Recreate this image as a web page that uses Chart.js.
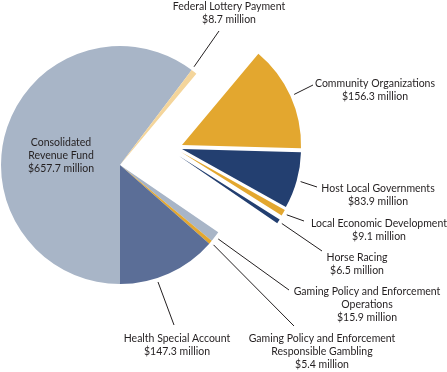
<!DOCTYPE html>
<html>
<head>
<meta charset="utf-8">
<script src="https://cdn.jsdelivr.net/npm/chart.js@4.4.1/dist/chart.umd.min.js"></script>
<style>
html,body{margin:0;padding:0;background:#fff;}
#wrap{position:relative;width:447px;height:372px;}
</style>
</head>
<body>
<div id="wrap"><canvas id="c" width="447" height="372"></canvas></div>
<script>
// ---- data ----
const categories = [
  "Consolidated Revenue Fund",
  "Federal Lottery Payment",
  "Community Organizations",
  "Host Local Governments",
  "Local Economic Development",
  "Horse Racing",
  "Gaming Policy and Enforcement Operations",
  "Gaming Policy and Enforcement Responsible Gambling",
  "Health Special Account"
];
const values = [657.7, 8.7, 156.3, 83.9, 9.1, 6.5, 15.9, 5.4, 147.3];
const valueLabels = ["$657.7 million","$8.7 million","$156.3 million","$83.9 million","$9.1 million","$6.5 million","$15.9 million","$5.4 million","$147.3 million"];
const nameLines = [
  ["Consolidated","Revenue Fund"],
  ["Federal Lottery Payment"],
  ["Community Organizations"],
  ["Host Local Governments"],
  ["Local Economic Development"],
  ["Horse Racing"],
  ["Gaming Policy and Enforcement","Operations"],
  ["Gaming Policy and Enforcement","Responsible Gambling"],
  ["Health Special Account"]
];

// ---- style / layout ----
const colors = ["#a8b5c7","#f4d59b","#e3a72f","#233f70","#e3a72f","#233f70","#a8b5c7","#e3a72f","#5b6e97"];
// translation of exploded slices (px)
const explode = {2:[62,-20], 3:[62,-16], 4:[61,-13], 5:[59,-9]};
// label placement: text centre x, first baseline y, leader end, optional leader angle (deg from top)
const labelLayout = {
  0:{x:61, y:146, inside:true},
  1:{x:229, y:10, end:[219,31], ang:37},
  2:{x:375, y:87, end:[313,85]},
  3:{x:378, y:192, end:[317,187]},
  4:{x:379, y:227, end:[304,221]},
  5:{x:357, y:261, end:[322,251]},
  6:{x:367, y:295, end:[289,290]},
  7:{x:322, y:342, end:[294,326]},
  8:{x:177, y:342, end:[174,325], ang:162}
};
const FONT = "10.5px Lato";
const LINE_H = 13;

const explodePlugin = {
  id:'explode',
  afterDatasetsUpdate(chart){
    const meta = chart.getDatasetMeta(0);
    meta.data.forEach((el,i)=>{
      if(explode[i]){ el.x += explode[i][0]; el.y += explode[i][1]; }
    });
  }
};

const labelPlugin = {
  id:'labels',
  afterDraw(chart){
    const ctx = chart.ctx;
    const meta = chart.getDatasetMeta(0);
    ctx.save();
    ctx.font = FONT;
    ctx.fillStyle = "#231f20";
    ctx.textAlign = "center";
    ctx.textBaseline = "alphabetic";
    meta.data.forEach((el,i)=>{
      const L = labelLayout[i];
      if(!L) return;
      const lines = nameLines[i].concat([valueLabels[i]]);
      lines.forEach((t,k)=>ctx.fillText(t, L.x, L.y + k*LINE_H));
      if(L.end){
        const a = (L.ang!==undefined) ? (L.ang-90)*Math.PI/180 : (el.startAngle+el.endAngle)/2;
        const r = el.outerRadius + 4;
        ctx.beginPath();
        ctx.strokeStyle = "#231f20";
        ctx.lineWidth = 1;
        ctx.moveTo(el.x + Math.cos(a)*r, el.y + Math.sin(a)*r);
        ctx.lineTo(L.end[0], L.end[1]);
        ctx.stroke();
      }
    });
    ctx.restore();
  }
};

new Chart(document.getElementById('c'), {
  type:'pie',
  data:{
    labels: categories,
    datasets:[{
      data: values,
      backgroundColor: colors,
      borderWidth: 0,
      radius: 119
    }]
  },
  options:{
    responsive:false,
    animation:false,
    events:[],
    rotation:180,
    layout:{padding:{left:0, right:207, top:46, bottom:88}},
    plugins:{legend:{display:false}, tooltip:{enabled:false}}
  },
  plugins:[explodePlugin, labelPlugin]
});
</script>
</body>
</html>
